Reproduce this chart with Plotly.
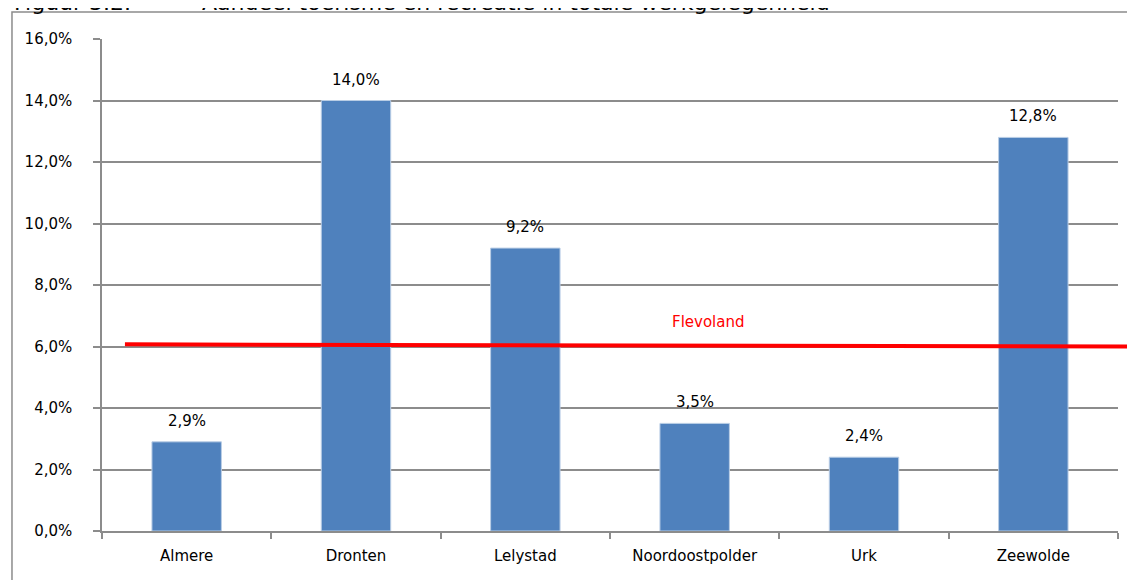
import plotly.graph_objects as go

# Aandeel toerisme en recreatie in totale werkgelegenheid
gemeenten = ["Almere", "Dronten", "Lelystad", "Noordoostpolder", "Urk", "Zeewolde"]
aandeel = [0.029, 0.140, 0.092, 0.035, 0.024, 0.128]
flevoland = [0.0607, 0.0600]  # line slightly sloped in the original
y_ticks = [0, 0.02, 0.04, 0.06, 0.08, 0.10, 0.12, 0.14, 0.16]

FONT = "DejaVu Sans"
GRID = "#8c8c8c"

fig = go.Figure()

fig.add_trace(
    go.Bar(
        x=gemeenten,
        y=aandeel,
        marker=dict(color="#4f81bd", line=dict(color="#b9cde5", width=1)),
        hoverinfo="x+y",
    )
)

# value labels above the bars
for g, v in zip(gemeenten, aandeel):
    fig.add_annotation(
        x=g,
        y=v,
        yshift=21,
        text=f"{v * 100:.1f}%".replace(".", ","),
        showarrow=False,
        font=dict(family=FONT, size=15, color="black"),
    )

# Flevoland average line (runs a bit past the plot area on the right)
fig.add_shape(
    type="line",
    xref="paper",
    yref="y",
    x0=0.0226,
    x1=1.0098,
    y0=flevoland[0],
    y1=flevoland[1],
    line=dict(color="#ff0000", width=4),
)
fig.add_annotation(
    xref="paper",
    yref="y",
    x=0.596,
    y=flevoland[1],
    yshift=25,
    text="Flevoland",
    showarrow=False,
    font=dict(family=FONT, size=15, color="#ff0000"),
)

# outer frame of the figure
fig.add_shape(
    type="rect",
    xref="paper",
    yref="paper",
    x0=-0.0886,
    x1=1.06,
    y0=-0.25,
    y1=1.0549,
    line=dict(color="#8c8c8c", width=1.5),
)

# figure caption, cut off at the top of the page
fig.add_annotation(
    xref="paper",
    yref="paper",
    x=-0.0886,
    y=1.045,
    xanchor="left",
    yanchor="bottom",
    text="Figuur 3.2.",
    showarrow=False,
    font=dict(family=FONT, size=22, color="black"),
)
fig.add_annotation(
    xref="paper",
    yref="paper",
    x=0.0965,
    y=1.045,
    xanchor="left",
    yanchor="bottom",
    text="Aandeel toerisme en recreatie in totale werkgelegenheid",
    showarrow=False,
    font=dict(family=FONT, size=22, color="black"),
)

# the page adds an 8px body margin, so the margins are shifted by that
fig.update_layout(
    width=1135,
    height=580,
    margin=dict(l=94, r=25, t=31, b=57),
    paper_bgcolor="white",
    plot_bgcolor="white",
    separators=",.",
    bargap=0.59,
    showlegend=False,
    font=dict(family=FONT, size=15, color="black"),
)

fig.update_xaxes(
    showline=True,
    linecolor=GRID,
    linewidth=1.5,
    ticks="outside",
    tickson="boundaries",
    ticklen=6,
    tickcolor=GRID,
    tickwidth=1.5,
    showgrid=False,
    ticklabelstandoff=10,
    tickfont=dict(family=FONT, size=15),
)

fig.update_yaxes(
    range=[0, 0.16],
    tickvals=y_ticks,
    tickformat=".1%",
    showline=True,
    linecolor=GRID,
    linewidth=1.5,
    ticks="outside",
    ticklen=7,
    tickcolor=GRID,
    tickwidth=1.5,
    showgrid=True,
    gridcolor=GRID,
    gridwidth=1.5,
    zeroline=False,
    ticklabelstandoff=18,
    tickfont=dict(family=FONT, size=15),
)

fig.write_html("out.html")
